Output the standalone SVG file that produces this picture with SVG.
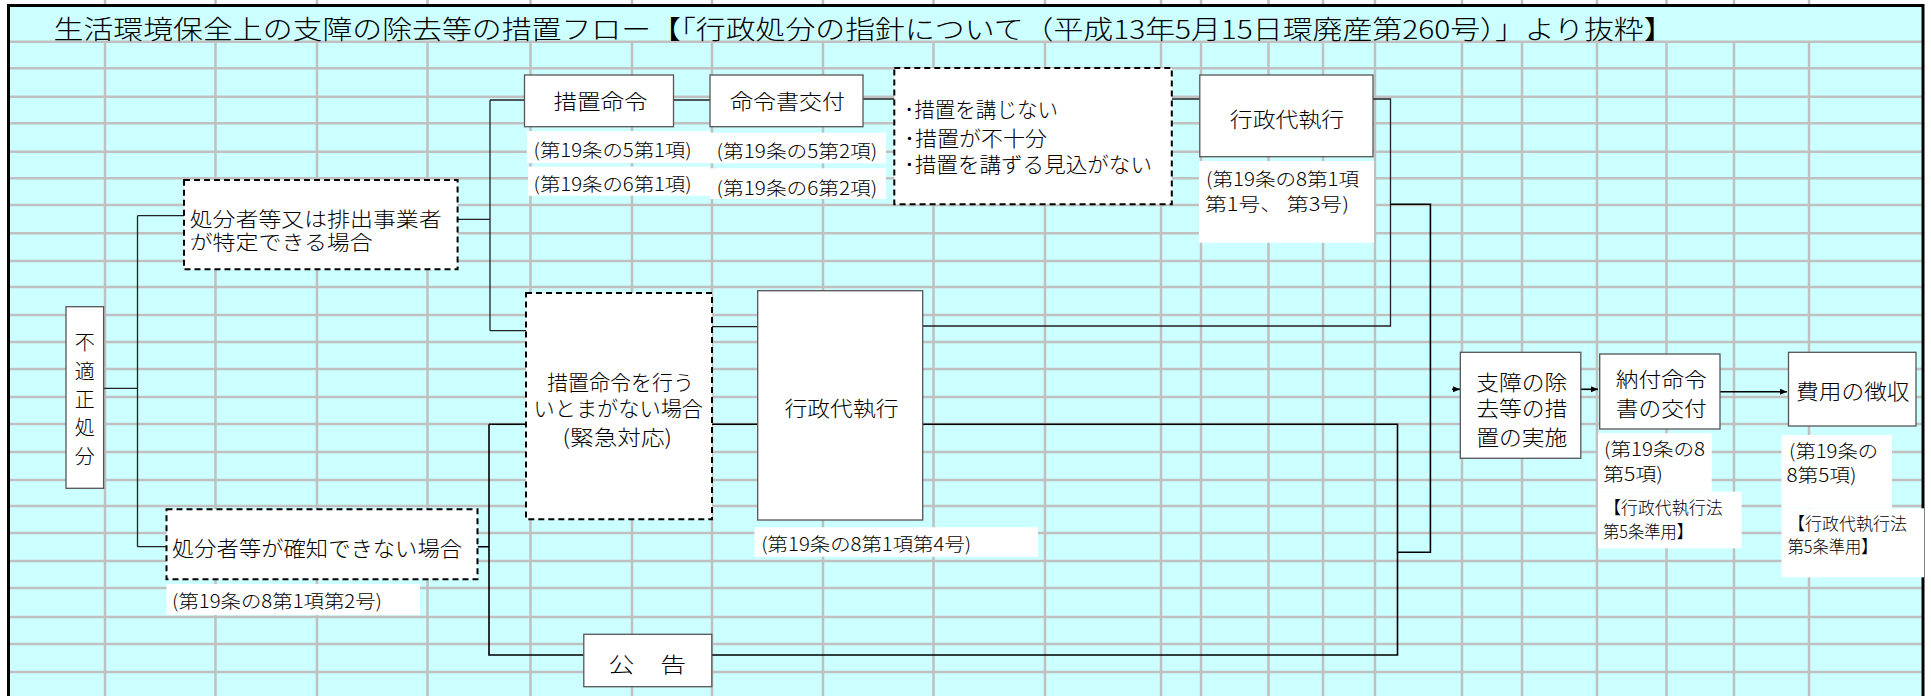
<svg xmlns="http://www.w3.org/2000/svg" width="1931" height="696" viewBox="0 0 1931 696">
<defs>
<style>
.grid{stroke:#c0c0c0;stroke-width:2.5;fill:none}
.frame{stroke:#000;stroke-width:3;fill:none}
.box{fill:#fff;stroke:#555;stroke-width:1.3}
.dbox{fill:#fff;stroke:#000;stroke-width:2;stroke-dasharray:6 4}
.lbl{fill:#fff}
.t{font-family:"Noto Sans CJK JP","Noto Sans CJK SC",sans-serif;font-weight:300;fill:#000;dominant-baseline:central}
.m{font-size:21px}
.m2{font-size:20px}
.s{font-size:18.5px}
.xs{font-size:17.5px}
.c{text-anchor:middle}
.conn{stroke:#222;stroke-width:1.3;fill:none}
.conn2{stroke:#000;stroke-width:1.6;fill:none}
</style>
<marker id="ah" markerWidth="8" markerHeight="8" refX="7" refY="4" orient="auto" markerUnits="userSpaceOnUse">
<path d="M0,1 L7,4 L0,7 Z" fill="#000"/>
</marker>
</defs>
<rect x="0" y="0" width="1931" height="696" fill="#fff"/>
<rect x="8.5" y="5.5" width="1914.5" height="691" fill="#ccffff"/>
<g id="grid">
<path class="grid" d="M8.5,41.7H1923M8.5,68.3H1923M8.5,96.7H1923M8.5,123.3H1923M8.5,151.7H1923M8.5,178.3H1923M8.5,205H1923M8.5,233.3H1923M8.5,261H1923M8.5,287H1923M8.5,315H1923M8.5,342H1923M8.5,369H1923M8.5,397H1923M8.5,424H1923M8.5,452H1923M8.5,480H1923M8.5,506H1923M8.5,533H1923M8.5,561H1923M8.5,588H1923M8.5,617H1923M8.5,644H1923M8.5,672H1923"/>
<path class="grid" d="M105,41.7V696M215.5,41.7V696M317,41.7V696M427.5,41.7V696M530.5,41.7V696M632,41.7V696M712,41.7V696M823,41.7V696M933.5,41.7V696M1045,41.7V696M1161,41.7V696M1201,41.7V696M1268.5,41.7V696M1323,41.7V696M1375,41.7V696M1462,41.7V696M1522,41.7V696M1597,41.7V696M1666.5,41.7V696M1734,41.7V696M1809,41.7V696"/>
<path class="grid" d="M105,0V4M215.5,0V4M317,0V4M427.5,0V4M530.5,0V4M632,0V4M712,0V4M823,0V4M933.5,0V4M1045,0V4M1161,0V4M1201,0V4M1268.5,0V4M1323,0V4M1375,0V4M1462,0V4M1522,0V4M1597,0V4M1666.5,0V4M1734,0V4M1809,0V4"/>
<path class="frame" d="M8.5,696V5.5H1923V696"/>
</g>
<text id="title" class="t" x="53.6" y="27.5" font-size="26" textLength="1620" lengthAdjust="spacingAndGlyphs">生活環境保全上の支障の除去等の措置フロー【「行政処分の指針について（平成13年5月15日環廃産第260号）」より抜粋】</text>

<g id="connectors">
<path class="conn" d="M103.6,388.3H137.5M137.5,215.7V546.7M137.5,215.7H184M137.5,546.7H166.5"/>
<path class="conn" d="M457.6,219.3H490M490,100V330.7M490,100H524.5M490,330.7H526"/>
<path class="conn" d="M673.3,100H710M863,99H894.3M1171.4,99H1199.8M1373,99H1390.5V326H922.8M712,326.7H757.7"/>
<path class="conn2" d="M1390.5,204.3H1430.4V552.3H1397.5"/>
<path class="conn2" d="M477.6,546.7H489M489,424.3V655H583.8M489,424.3H526M712,424.3H757.7M922.8,424.3H1397.5V655H711.8"/>
<path class="conn2" d="M1452,389.3H1460" marker-end="url(#ah)"/>
<path class="conn2" d="M1580.8,389.3H1598" marker-end="url(#ah)"/>
<path class="conn2" d="M1720,391.7H1787" marker-end="url(#ah)"/>
</g>

<g id="n-futekisei">
<rect class="box" x="66" y="306.7" width="37.6" height="181.6"/>
<text class="t c" x="84.8" y="341.7" font-size="20">不</text>
<text class="t c" x="84.8" y="370" font-size="20">適</text>
<text class="t c" x="84.8" y="398.3" font-size="20">正</text>
<text class="t c" x="84.8" y="426.7" font-size="20">処</text>
<text class="t c" x="84.8" y="455" font-size="20">分</text>
</g>

<g id="n-tokutei">
<rect class="dbox" x="184" y="180" width="273.6" height="89.3"/>
<text class="t m2" x="189.7" y="218.3" textLength="252" lengthAdjust="spacingAndGlyphs">処分者等又は排出事業者</text>
<text class="t m2" x="189.7" y="241.7" textLength="183" lengthAdjust="spacingAndGlyphs">が特定できる場合</text>
</g>

<g id="n-kakuchi">
<rect class="dbox" x="166.5" y="509.3" width="311" height="70"/>
<text class="t m" x="172" y="546.7" textLength="290" lengthAdjust="spacingAndGlyphs">処分者等が確知できない場合</text>
</g>
<g id="l-2go">
<rect class="lbl" x="166.5" y="584" width="253.5" height="31"/>
<text class="t s" x="172" y="600" textLength="210" lengthAdjust="spacingAndGlyphs">(第19条の8第1項第2号)</text>
</g>

<g id="n-sochimeirei">
<rect class="box" x="524.5" y="75" width="149" height="51.7"/>
<text class="t m c" x="600.5" y="100" textLength="94" lengthAdjust="spacingAndGlyphs">措置命令</text>
</g>
<g id="n-meireisho">
<rect class="box" x="710" y="75" width="153" height="51.7"/>
<text class="t m c" x="787.5" y="100" textLength="115" lengthAdjust="spacingAndGlyphs">命令書交付</text>
</g>
<g id="l-sochimeirei">
<rect class="lbl" x="527" y="131" width="183" height="32"/>
<rect class="lbl" x="528" y="166.7" width="182" height="29"/>
<text class="t s" x="533.6" y="148.5" textLength="158" lengthAdjust="spacingAndGlyphs">(第19条の5第1項)</text>
<text class="t s" x="533.6" y="183.3" textLength="158" lengthAdjust="spacingAndGlyphs">(第19条の6第1項)</text>
</g>
<g id="l-meireisho">
<rect class="lbl" x="710" y="132.7" width="176" height="30.6"/>
<rect class="lbl" x="710" y="168.3" width="176" height="30.7"/>
<text class="t s" x="716.6" y="150" textLength="160.7" lengthAdjust="spacingAndGlyphs">(第19条の5第2項)</text>
<text class="t s" x="716.6" y="186.7" textLength="160.7" lengthAdjust="spacingAndGlyphs">(第19条の6第2項)</text>
</g>

<g id="n-kouzenai">
<rect class="dbox" x="894.3" y="68" width="277.5" height="136.3"/>
<text class="t m" x="904" y="108.3" textLength="154" lengthAdjust="spacingAndGlyphs">･措置を講じない</text>
<text class="t m" x="904" y="136.7" textLength="143" lengthAdjust="spacingAndGlyphs">･措置が不十分</text>
<text class="t m" x="904" y="163.3" textLength="248" lengthAdjust="spacingAndGlyphs">･措置を講ずる見込がない</text>
</g>

<g id="n-daishikkou1">
<rect class="box" x="1199.8" y="75" width="173.2" height="81.7"/>
<text class="t m c" x="1287" y="118.3" textLength="114.5" lengthAdjust="spacingAndGlyphs">行政代執行</text>
</g>
<g id="l-daishikkou1">
<rect class="lbl" x="1199" y="161" width="175" height="81.7"/>
<text class="t s" x="1206" y="178.3" textLength="153" lengthAdjust="spacingAndGlyphs">(第19条の8第1項</text>
<text class="t s" x="1205" y="202.7" textLength="144" lengthAdjust="spacingAndGlyphs">第1号、 第3号)</text>
</g>

<g id="n-kinkyu">
<rect class="dbox" x="526" y="293" width="186" height="226.3"/>
<text class="t m c" x="620.5" y="380.8" textLength="147" lengthAdjust="spacingAndGlyphs">措置命令を行う</text>
<text class="t m c" x="618.3" y="407.3" textLength="169.4" lengthAdjust="spacingAndGlyphs">いとまがない場合</text>
<text class="t m c" x="617.3" y="435.8" textLength="109.4" lengthAdjust="spacingAndGlyphs">(緊急対応)</text>
</g>

<g id="n-daishikkou2">
<rect class="box" x="757.7" y="290.7" width="165" height="229.3"/>
<text class="t m c" x="841.5" y="406.7" textLength="114" lengthAdjust="spacingAndGlyphs">行政代執行</text>
</g>
<g id="l-4go">
<rect class="lbl" x="754.5" y="527.3" width="283.5" height="29.4"/>
<text class="t s" x="761.2" y="543.3" textLength="210" lengthAdjust="spacingAndGlyphs">(第19条の8第1項第4号)</text>
</g>

<g id="n-koukoku">
<rect class="box" x="583.8" y="634.3" width="128" height="52.4"/>
<text class="t m c" x="647.3" y="663.3" textLength="77.5" lengthAdjust="spacingAndGlyphs">公　告</text>
</g>

<g id="n-jisshi">
<rect class="box" x="1460.3" y="352.3" width="120.5" height="106"/>
<text class="t m c" x="1521.7" y="381" textLength="91" lengthAdjust="spacingAndGlyphs">支障の除</text>
<text class="t m c" x="1521.7" y="407.3" textLength="91" lengthAdjust="spacingAndGlyphs">去等の措</text>
<text class="t m c" x="1521.7" y="435.5" textLength="91" lengthAdjust="spacingAndGlyphs">置の実施</text>
</g>

<g id="n-noufu">
<rect class="box" x="1599.7" y="354" width="120.3" height="75"/>
<text class="t m c" x="1661.2" y="378.3" textLength="91" lengthAdjust="spacingAndGlyphs">納付命令</text>
<text class="t m c" x="1661.2" y="406.7" textLength="91" lengthAdjust="spacingAndGlyphs">書の交付</text>
</g>
<g id="l-noufu">
<rect class="lbl" x="1598" y="433.3" width="113.7" height="58.4"/>
<rect class="lbl" x="1598" y="491.7" width="143.6" height="56.6"/>
<text class="t s" x="1604" y="448.3" textLength="101" lengthAdjust="spacingAndGlyphs">(第19条の8</text>
<text class="t s" x="1603" y="472.7" textLength="60" lengthAdjust="spacingAndGlyphs">第5項)</text>
<text class="t xs" x="1604" y="506.7" textLength="118.6" lengthAdjust="spacingAndGlyphs">【行政代執行法</text>
<text class="t xs" x="1603" y="530" textLength="90" lengthAdjust="spacingAndGlyphs">第5条準用】</text>
</g>

<g id="n-choushu">
<rect class="box" x="1788.5" y="352.3" width="127.5" height="73.7"/>
<text class="t m c" x="1852.8" y="390" textLength="113.5" lengthAdjust="spacingAndGlyphs">費用の徴収</text>
</g>
<g id="l-choushu">
<rect class="lbl" x="1781.5" y="435" width="110.5" height="73.3"/>
<rect class="lbl" x="1781.5" y="508.3" width="142.5" height="69"/>
<text class="t s" x="1789" y="450" textLength="89" lengthAdjust="spacingAndGlyphs">(第19条の</text>
<text class="t s" x="1786.5" y="474" textLength="70" lengthAdjust="spacingAndGlyphs">8第5項)</text>
<text class="t xs" x="1788" y="522.7" textLength="119" lengthAdjust="spacingAndGlyphs">【行政代執行法</text>
<text class="t xs" x="1787.5" y="545" textLength="90" lengthAdjust="spacingAndGlyphs">第5条準用】</text>
</g>
</svg>
